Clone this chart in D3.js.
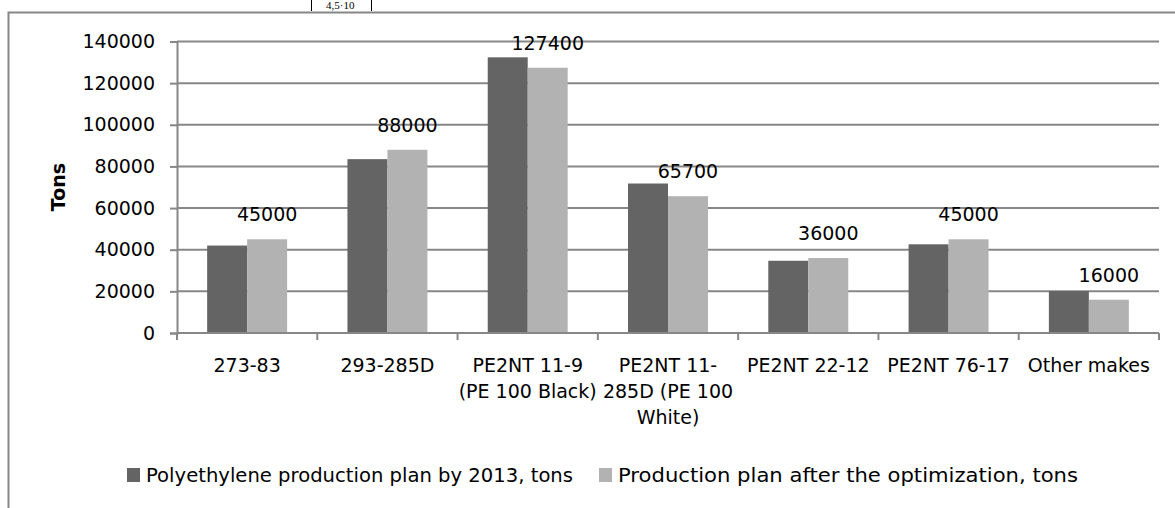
<!DOCTYPE html>
<html>
<head>
<meta charset="utf-8">
<script src="https://cdn.jsdelivr.net/npm/d3@7"></script>
<style>
  html, body { margin: 0; padding: 0; background: #fff; }
  svg { display: block; }
  text { font-family: "DejaVu Sans", sans-serif; fill: #000; }
</style>
</head>
<body>
<svg id="chart" width="1175" height="508"></svg>
<script>
// Product grades and their planned production (tons)
const categories = [
  ["273-83"],
  ["293-285D"],
  ["PE2NT 11-9", "(PE 100 Black)"],
  ["PE2NT 11-", "285D (PE 100", "White)"],
  ["PE2NT 22-12"],
  ["PE2NT 76-17"],
  ["Other makes"]
];
const planBy2013 = [42000, 83500, 132400, 71800, 34700, 42600, 20100];
const planOptimized = [45000, 88000, 127400, 65700, 36000, 45000, 16000];
const seriesNames = [
  "Polyethylene production plan by 2013, tons",
  "Production plan after the optimization, tons"
];
const yTicks = [0, 20000, 40000, 60000, 80000, 100000, 120000, 140000];
const colors = ["#646464", "#b2b2b2"];
const lineColor = "#878787";

const svg = d3.select("#chart");

// Outer chart frame (top and left edges visible)
svg.append("path")
  .attr("d", "M8.5,520 V12.5 H1180")
  .attr("fill", "none").attr("stroke", lineColor).attr("stroke-width", 2);

// Fragment of the table cell above the chart
svg.append("line").attr("x1", 311.5).attr("x2", 311.5).attr("y1", 0).attr("y2", 11)
  .attr("stroke", "#000").attr("stroke-width", 1);
svg.append("line").attr("x1", 371.5).attr("x2", 371.5).attr("y1", 0).attr("y2", 11)
  .attr("stroke", "#000").attr("stroke-width", 1);
svg.append("text").attr("x", 326).attr("y", 9)
  .style("font-family", "'Liberation Serif', serif").style("font-size", "11px")
  .text("4,5·10");

const plotLeft = 177, plotRight = 1159, plotTop = 41.5, plotBottom = 333;
const fontSize = "19px";

const x = d3.scaleBand()
  .domain(d3.range(categories.length))
  .range([plotLeft, plotRight])
  .paddingInner(0.43)
  .paddingOuter(0.215);

const x1 = d3.scaleBand()
  .domain([0, 1])
  .range([0, x.bandwidth()]);

const y = d3.scaleLinear().domain([0, 140000]).range([plotBottom, plotTop]);

// Horizontal gridlines
svg.append("g").selectAll("line")
  .data(yTicks.filter(d => d > 0))
  .join("line")
  .attr("x1", plotLeft).attr("x2", plotRight)
  .attr("y1", d => y(d)).attr("y2", d => y(d))
  .attr("stroke", lineColor).attr("stroke-width", 2);

// Y axis
const yAxis = svg.append("g")
  .attr("transform", `translate(${plotLeft},0)`)
  .call(d3.axisLeft(y).tickValues(yTicks).tickSize(7).tickPadding(15).tickFormat(d3.format("d")));
yAxis.select(".domain").attr("stroke", lineColor).attr("stroke-width", 2);
yAxis.selectAll(".tick line").attr("stroke", lineColor).attr("stroke-width", 2);
yAxis.selectAll(".tick text")
  .style("font-family", "'DejaVu Sans', sans-serif").style("font-size", fontSize)
  .attr("fill", "#000");

// Y axis title
svg.append("text")
  .attr("transform", `translate(${65},${187}) rotate(-90)`)
  .attr("text-anchor", "middle")
  .style("font-size", fontSize).style("font-weight", "bold")
  .text("Tons");

// Bars
const groups = svg.append("g").selectAll("g")
  .data(categories.map((c, i) => ({ i, values: [planBy2013[i], planOptimized[i]] })))
  .join("g")
  .attr("transform", d => `translate(${x(d.i)},0)`);

groups.selectAll("rect")
  .data(d => d.values.map((v, s) => ({ v, s })))
  .join("rect")
  .attr("x", d => x1(d.s))
  .attr("width", x1.bandwidth())
  .attr("y", d => y(d.v))
  .attr("height", d => y(0) - y(d.v))
  .attr("fill", d => colors[d.s]);

// Value labels over the optimized-plan bars
groups.append("text")
  .attr("x", x1(1) + x1.bandwidth() / 2)
  .attr("y", d => y(d.values[1]) - 18)
  .attr("text-anchor", "middle")
  .style("font-size", fontSize)
  .text(d => d.values[1]);

// X axis
const step = x.step();
const xAxis = svg.append("g");
xAxis.append("line")
  .attr("x1", plotLeft).attr("x2", plotRight)
  .attr("y1", plotBottom).attr("y2", plotBottom)
  .attr("stroke", lineColor).attr("stroke-width", 2);
xAxis.selectAll("line.tick")
  .data(d3.range(categories.length + 1))
  .join("line").attr("class", "tick")
  .attr("x1", i => plotLeft + i * step).attr("x2", i => plotLeft + i * step)
  .attr("y1", plotBottom).attr("y2", plotBottom + 7)
  .attr("stroke", lineColor).attr("stroke-width", 2);

const catLabels = xAxis.selectAll("text.cat")
  .data(categories.map((c, i) => ({ c, i })))
  .join("text").attr("class", "cat")
  .attr("text-anchor", "middle")
  .attr("x", d => x(d.i) + x.bandwidth() / 2)
  .style("font-size", fontSize);
catLabels.selectAll("tspan")
  .data(d => d.c.map((line, k) => ({ line, k, cx: x(d.i) + x.bandwidth() / 2 })))
  .join("tspan")
  .attr("x", d => d.cx)
  .attr("y", d => 372 + d.k * 26)
  .text(d => d.line);

// Legend
const legendItems = [{ x: 127, s: 0, w: 427 }, { x: 599, s: 1, w: 460 }];
const legend = svg.append("g").selectAll("g")
  .data(legendItems)
  .join("g")
  .attr("transform", d => `translate(${d.x},${468})`);
legend.append("rect")
  .attr("width", 13).attr("height", 14)
  .attr("fill", d => colors[d.s]);
legend.append("text")
  .attr("x", 19).attr("y", 14)
  .style("font-size", fontSize)
  .attr("textLength", d => d.w)
  .attr("lengthAdjust", "spacingAndGlyphs")
  .text(d => seriesNames[d.s]);
</script>
</body>
</html>
